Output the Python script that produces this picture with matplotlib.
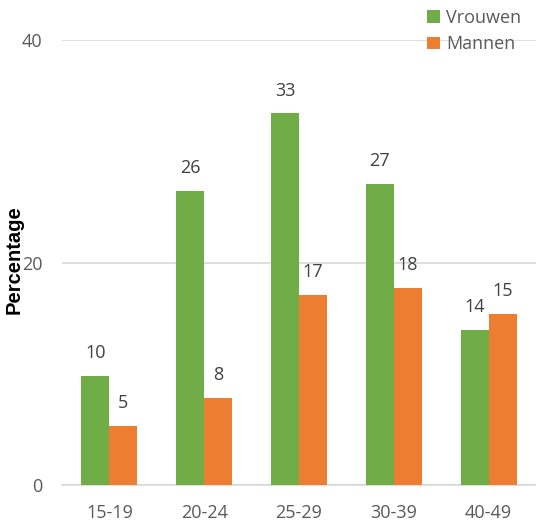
import numpy as np
import matplotlib
matplotlib.use("Agg")
import matplotlib.pyplot as plt

# age groups and percentages
groups = ["15-19", "20-24", "25-29", "30-39", "40-49"]
vrouwen = [9.8, 26.4, 33.4, 27.1, 13.9]
mannen = [5.3, 7.8, 17.1, 17.7, 15.4]
vrouwen_labels = ["10", "26", "33", "27", "14"]
mannen_labels = ["5", "8", "17", "18", "15"]
yticks = [0, 20, 40]

green = "#70AD47"
orange = "#ED7D31"
gray = "#595959"

fig = plt.figure(figsize=(5.36, 5.23), dpi=100)
ax = fig.add_axes([62 / 536, 1 - 485 / 523, 1 - 62 / 536, (485 - 40) / 523])

x = np.arange(len(groups))
w = 0.295
b1 = ax.bar(x - w / 2, vrouwen, w, color=green, label="Vrouwen", zorder=3)
b2 = ax.bar(x + w / 2, mannen, w, color=orange, label="Mannen", zorder=3)

for bars, labs in ((b1, vrouwen_labels), (b2, mannen_labels)):
    for rect, lab in zip(bars, labs):
        ax.annotate(lab, (rect.get_x() + rect.get_width() / 2, rect.get_height()),
                    xytext=(0, 16.5), textcoords="offset points", ha="center", va="center",
                    fontsize=13, color="#404040", family="Open Sans")

ax.set_xlim(-0.5, 4.5)
ax.set_ylim(0, 40)
ax.set_yticks(yticks)
ax.set_xticks(x)
ax.set_xticklabels(groups)
ax.yaxis.grid(True, color="#D9D9D9", linewidth=1.2, zorder=0)
for s in ["top", "right", "left"]:
    ax.spines[s].set_visible(False)
ax.spines["bottom"].set_color("#D9D9D9")
ax.spines["bottom"].set_linewidth(1.2)
ax.tick_params(length=0, labelsize=13, labelcolor=gray)
ax.tick_params(axis="y", pad=14)
ax.tick_params(axis="x", pad=14)
for t in ax.get_xticklabels() + ax.get_yticklabels():
    t.set_family("Open Sans")

fig.text(14 / 536, 1 - 260 / 523, "Percentage", rotation=90, ha="center", va="center",
         fontsize=14.5, fontweight="bold", family="Liberation Sans", color="black")

leg = fig.legend(loc="upper right", bbox_to_anchor=(530 / 536, 1.0), frameon=False,
                 prop={"family": "Open Sans", "size": 13}, handlelength=0.7, handleheight=0.7,
                 handletextpad=0.35, labelspacing=0.45, borderaxespad=0.1)
for t in leg.get_texts():
    t.set_color(gray)

fig.savefig("out.png", dpi=100)
